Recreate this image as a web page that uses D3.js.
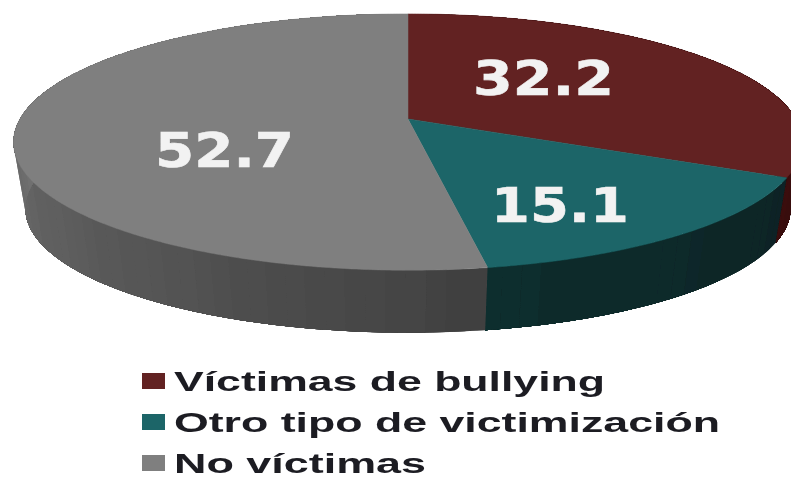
<!DOCTYPE html>
<html><head><meta charset="utf-8">
<script src="https://cdnjs.cloudflare.com/ajax/libs/d3/7.8.5/d3.min.js"></script>
<style>html,body{margin:0;padding:0;background:#fff;overflow:hidden}svg{display:block}</style>
</head><body>
<svg id="c" width="791" height="479"></svg>
<script>
const categories = ["Víctimas de bullying", "Otro tipo de victimización", "No víctimas"];
const values = [32.2, 15.1, 52.7];
const topColors = ["#622323", "#1d6567", "#7f7f7f"];
const sideColorsFrom = ["#2a0808", "#0a2425", "#404040"];
const sideColorsTo = ["#3a0c0c", "#0b2e2e", "#747474"];

const svg = d3.select("#c");
const defs = svg.append("defs");
defs.append("filter").attr("id", "soft").attr("x", "-5%").attr("y", "-5%").attr("width", "110%").attr("height", "110%")
  .append("feGaussianBlur").attr("stdDeviation", 0.55);

// Perspective projection of a unit disc onto the page
const k = 0.18;
const sx = d3.scaleLinear().domain([-1, 1]).range([20, 796]);
const sy = d3.scaleLinear().domain([-1, 1]).range([-5, 243]);
const sxB = d3.scaleLinear().domain([-1, 1]).range([31.6, 784.4]);
const syB = d3.scaleLinear().domain([-1, 1]).range([65.7, 306.3]);
const proj = (a, r, X, Y) => {
  const u = r * Math.sin(a), v = -r * Math.cos(a), w = 1 - k * v;
  return [X(u / w), Y(v / w)];
};
const top_ = (a, r = 1) => proj(a, r, sx, sy);
const bot = a => proj(a, 1, sxB, syB);

const arcs = d3.pie().sort(null).value(d => d)(values);
const step = Math.PI / 180;
const g = svg.append("g").attr("filter", "url(#soft)");

// Side wall: each segment is a stack of shaded bands; each later band
// covers the remainder of the segment, so no seam can show.
arcs.forEach((s, i) => {
  const visEnd = i === 2 ? Math.PI * 1.55 : s.endAngle;
  const shade = d3.scaleLinear().domain([s.startAngle, visEnd])
    .range([sideColorsFrom[i], sideColorsTo[i]]).clamp(true);
  const bandStep = step * 2.5;
  const bands = d3.range(s.startAngle, s.endAngle, bandStep);
  const ring = (a0, a1) => {
    const as = d3.range(a0, a1, step).concat([a1]);
    return d3.line()(as.map(a => top_(a)).concat(as.map(a => bot(a)).reverse())) + "Z";
  };
  g.selectAll("path.s" + i).data(bands).join("path").attr("class", "s" + i)
    .attr("d", a0 => ring(a0, s.endAngle))
    .attr("fill", a0 => shade(a0));
});

// Top surface
const wedge = d => {
  const pts = [top_(0, 0)];
  for (let a = d.startAngle; a < d.endAngle; a += step / 2) pts.push(top_(a));
  pts.push(top_(d.endAngle));
  return d3.line()(pts) + "Z";
};
g.selectAll("path.top").data(arcs).join("path").attr("class", "top")
  .attr("d", wedge).attr("fill", (d, i) => topColors[i])
  .attr("stroke", (d, i) => topColors[i]).attr("stroke-width", 0.5);

// Value labels
const labelBox = [[543.5, 95], [560, 222], [224.5, 167]];
const labelW = [141, 138, 139];
g.selectAll("text.val").data(values).join("text").attr("class", "val")
  .attr("x", (d, i) => labelBox[i][0]).attr("y", (d, i) => labelBox[i][1])
  .attr("text-anchor", "middle")
  .attr("font-family", "'DejaVu Sans'").attr("font-weight", 700).attr("font-size", 48)
  .attr("textLength", (d, i) => labelW[i]).attr("lengthAdjust", "spacingAndGlyphs")
  .attr("fill", "#f2f2f2").attr("stroke", "#f2f2f2").attr("stroke-width", 0.6)
  .text(d => d3.format(".1f")(d));

// Legend
const ly = d3.scalePoint().domain(categories).range([391, 473]);
const legendW = [431, 546, 252];
const lg = g.selectAll("g.leg").data(categories).join("g").attr("class", "leg");
lg.append("rect").attr("x", 142).attr("y", d => ly(d) - 18).attr("width", 23).attr("height", 16)
  .attr("fill", (d, i) => topColors[i]);
lg.append("text").attr("x", 174).attr("y", d => ly(d))
  .attr("font-family", "'Liberation Sans'").attr("font-weight", 700).attr("font-size", 28)
  .attr("textLength", (d, i) => legendW[i]).attr("lengthAdjust", "spacingAndGlyphs")
  .attr("fill", "#1b1b22").text(d => d);
</script>
</body></html>
